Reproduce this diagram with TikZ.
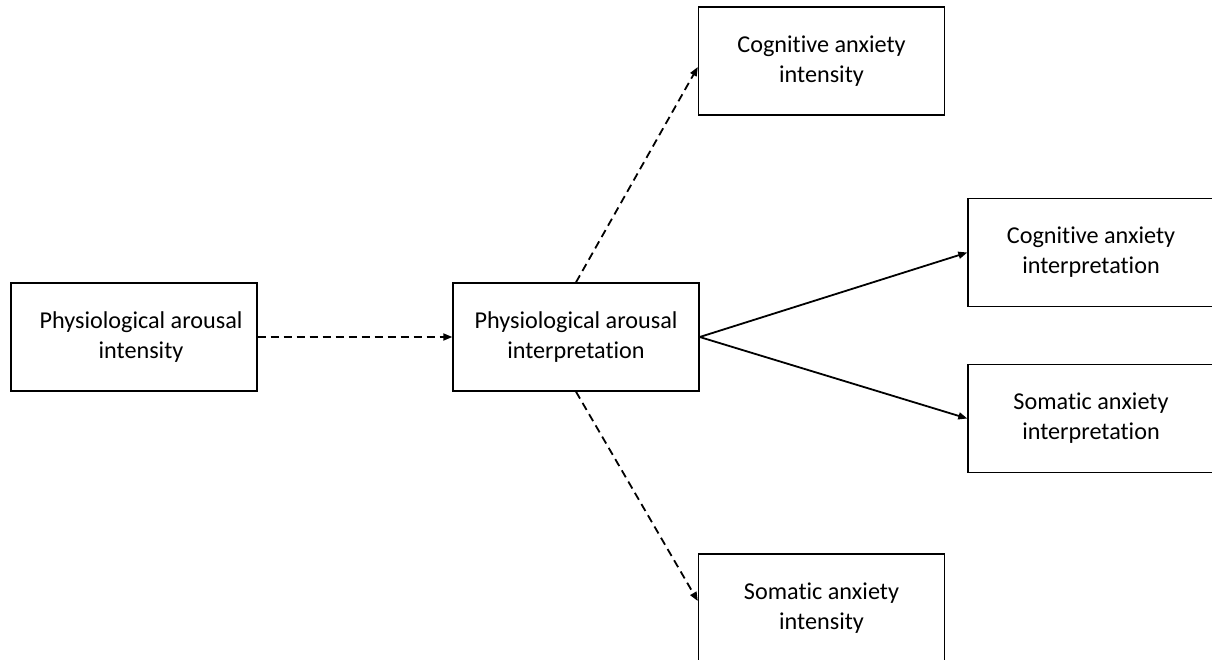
\documentclass[tikz,border=0pt]{standalone}
\usepackage{fontspec}
\setmainfont[Ligatures={NoCommon}]{Carlito}
\usetikzlibrary{arrows.meta,calc}
\begin{document}
\begin{tikzpicture}[x=1pt,y=-1pt,
  box/.style={draw=black,line width=1.4pt,minimum width=246pt,minimum height=108pt,
    inner sep=0pt,align=center,font=\fontsize{24.2}{30}\selectfont,anchor=center},
  arr/.style={line width=1.8pt,-{Triangle[length=9pt,width=7pt]}},
  dsh/.style={arr,dash pattern=on 8pt off 5pt}]
\useasboundingbox (0,0) rectangle (1212,659);
\clip (0,0) rectangle (1212,659);
\fill[white] (0,0) rectangle (1212,659);
\node[box] (pai) at (134,337) {\hspace*{14pt}Physiological arousal\\\hspace*{14pt}intensity};
\node[box] (pae) at (576,337) {Physiological arousal\\interpretation};
\node[box] (cai) at (821.5,61) {Cognitive anxiety\\intensity};
\node[box] (cae) at (1091,252.5) {Cognitive anxiety\\interpretation};
\node[box] (sae) at (1091,418.5) {Somatic anxiety\\interpretation};
\node[box] (sai) at (821.5,608) {Somatic anxiety\\intensity};
\coordinate (caiin) at ($(cai.west)+(0,6)$);
\coordinate (saiin) at ($(sai.west)+(0,-7)$);
\draw[dsh] (pai.east) -- (pae.west);
\draw[dsh] (pae.north) -- (caiin);
\draw[dsh] (pae.south) -- (saiin);
\draw[arr] (pae.east) -- (cae.west);
\draw[arr] (pae.east) -- (sae.west);
\end{tikzpicture}
\end{document}
